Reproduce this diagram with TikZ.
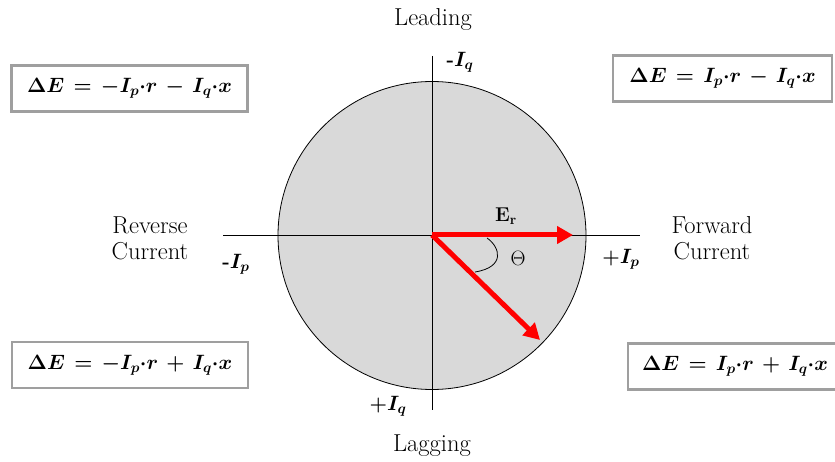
\documentclass[tikz,border=0pt]{standalone}
\usepackage{amsmath}
\usepackage{bm}
\usetikzlibrary{arrows.meta}
\begin{document}
\begin{tikzpicture}[x=1pt,y=-1pt,
  lbl/.style={font=\fontsize{24.5}{26}\selectfont, align=center, inner sep=0pt},
  axlbl/.style={font=\fontsize{20}{23}\selectfont\bfseries, inner sep=0pt},
  eqbox/.style={draw=gray!75, line width=2.2pt, fill=white, minimum height=46pt, inner sep=0pt, font=\fontsize{20}{23}\selectfont},
  axis/.style={black, line width=0.8pt},
  vec/.style={red, line width=5pt, -{Triangle[length=16pt,width=17pt]}}
]
\useasboundingbox (0,0) rectangle (835,462);
% circle
\node[circle, draw=black, line width=0.8pt, fill=gray!30, minimum size=308pt, inner sep=0pt] (c) at (432,235.5) {};
\coordinate (o) at (432,235);
% axes
\coordinate (xl) at (223,235);
\coordinate (xr) at (640,235);
\coordinate (yt) at (432,56);
\coordinate (yb) at (432,410);
\draw[axis] (xl) -- (xr);
\draw[axis] (yt) -- (yb);
% vectors
\coordinate (er) at (573,235);
\coordinate (dv) at (540,340);
\draw[vec] (o) -- (er);
\draw[vec] (o) -- (dv);
% angle arc
\coordinate (a1) at (487,238);
\coordinate (a2) at (475,272);
\draw[line width=0.8pt] (a1) .. controls (500,247) and (506,267) .. (a2);
% labels
\node[lbl] (lead) at (433,20) {Leading};
\node[lbl] (lag) at (432,446) {Lagging};
\node[lbl] (rev) at (150,238) {Reverse\\Current};
\node[lbl] (fwd) at (712,238) {Forward\\Current};
\node[axlbl] (mq) at (460,62) {-$\bm{I_q}$};
\node[axlbl] (pq) at (388,406) {+$\bm{I_q}$};
\node[axlbl] (mp) at (236,264) {-$\bm{I_p}$};
\node[axlbl] (pp) at (621,259) {+$\bm{I_p}$};
\node[font=\fontsize{20}{23}\selectfont\bfseries, inner sep=0pt] (erl) at (506,216) {E\textsubscript{r}};
\node[font=\fontsize{22}{25}\selectfont, inner sep=0pt] (th) at (518,258) {$\Theta$};
% equation boxes
\node[eqbox, minimum width=236pt] (tl) at (129.5,88.5) {$\bm{\Delta E\,=\,-I_{p}{\cdot}r\,-\,I_{q}{\cdot}x}$};
\node[eqbox, minimum width=219pt] (tr) at (722.5,78.5) {$\bm{\Delta E\,=\,I_{p}{\cdot}r\,-\,I_{q}{\cdot}x}$};
\node[eqbox, minimum width=236pt] (bl) at (130,365) {$\bm{\Delta E\,=\,-I_{p}{\cdot}r\,+\,I_{q}{\cdot}x}$};
\node[eqbox, minimum width=214pt] (br) at (735,366.5) {$\bm{\Delta E\,=\,I_{p}{\cdot}r\,+\,I_{q}{\cdot}x}$};
\end{tikzpicture}
\end{document}
